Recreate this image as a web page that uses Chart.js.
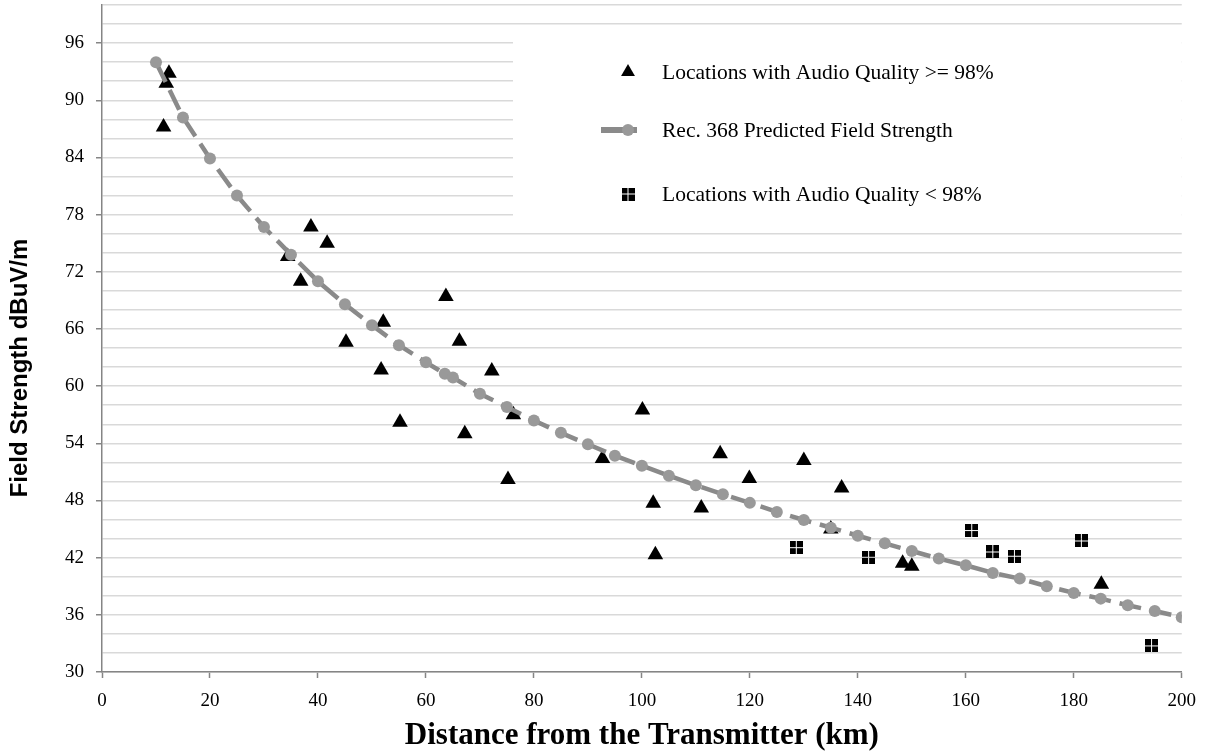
<!DOCTYPE html>
<html>
<head>
<meta charset="utf-8">
<script src="https://cdn.jsdelivr.net/npm/chart.js@4"></script>
<style>
  html, body { margin: 0; padding: 0; background: #fff; }
  #wrap { width: 1208px; height: 756px; }
</style>
</head>
<body>
<div id="wrap"><canvas id="fieldChart" width="1208" height="756"></canvas></div>
<script>
// Rec. 368 predicted curve
const predDist = [10, 15, 20, 25, 30, 35, 40, 45, 50, 55, 60, 63.5, 65, 70, 75, 80, 85, 90, 95, 100,
  105, 110, 115, 120, 125, 130, 135, 140, 145, 150, 155, 160, 165, 170, 175, 180, 185, 190, 195, 200];
const predField = [94.0, 88.2, 83.9, 80.0, 76.7, 73.8, 71.0, 68.6, 66.4, 64.3, 62.5, 61.3, 60.9, 59.2, 57.8, 56.4, 55.1, 53.9, 52.7, 51.65,
  50.6, 49.6, 48.65, 47.75, 46.8, 45.95, 45.15, 44.3, 43.5, 42.7, 41.9, 41.2, 40.4, 39.8, 39.0, 38.3, 37.7, 37.0, 36.4, 35.75];

// measured locations, audio quality >= 98%
const goodDist = [12.4, 11.9, 11.4, 34.4, 36.8, 38.7, 41.7, 45.2, 51.7, 52.1, 55.2, 63.7, 66.2, 67.2, 72.2,
  75.2, 76.2, 92.7, 100.1, 102.1, 102.5, 111.0, 114.5, 119.9, 130.0, 135.0, 137.0, 148.3, 150.0, 185.1];
const goodField = [92.85, 91.8, 87.2, 73.6, 71.0, 76.7, 75.0, 64.6, 61.7, 66.7, 56.2, 69.4, 64.7, 55.0, 61.6,
  50.2, 57.0, 52.4, 57.5, 47.7, 42.3, 47.2, 52.9, 50.3, 52.2, 45.0, 49.3, 41.4, 41.1, 39.2];

// measured locations, audio quality < 98%
const badDist = [128.6, 142.0, 161.1, 165.0, 169.0, 181.4, 194.4];
const badField = [43.05, 42.04, 44.85, 42.6, 42.15, 43.75, 32.74];

const seriesNames = ['Locations with Audio Quality >= 98%', 'Rec. 368 Predicted Field Strength', 'Locations with Audio Quality < 98%'];
const xTicks = [0, 20, 40, 60, 80, 100, 120, 140, 160, 180, 200];
const yLabelled = [30, 36, 42, 48, 54, 60, 66, 72, 78, 84, 90, 96];
const yTitle = 'Field Strength dBuV/m';
const xTitle = 'Distance from the Transmitter (km)';

function pairs(xs, ys) {
  return xs.map((x, i) => ({ x: x, y: ys[i] }));
}

// four-block square marker
function quadMarker() {
  const c = document.createElement('canvas');
  c.width = 13; c.height = 13;
  const g = c.getContext('2d');
  g.fillStyle = '#000';
  g.fillRect(0, 0, 6, 6);
  g.fillRect(7, 0, 6, 6);
  g.fillRect(0, 7, 6, 6);
  g.fillRect(7, 7, 6, 6);
  return c;
}
const quad = quadMarker();

const serif = "'Liberation Serif', 'Times New Roman', serif";
const sans = "'Liberation Sans', Arial, sans-serif";

// legend drawn inside the plot, on a white box
const insideLegend = {
  id: 'insideLegend',
  beforeDatasetsDraw(chart) {
    const ctx = chart.ctx;
    const area = chart.chartArea;
    const ds = chart.data.datasets;
    ctx.save();
    ctx.fillStyle = '#fff';
    ctx.fillRect(513, 27, area.right - 513, 197);
    const rows = [72, 130, 194];
    const mx = 628, tx = 662;
    ctx.font = '21.5px ' + serif;
    ctx.textBaseline = 'middle';
    ds.forEach((d, i) => {
      const y = rows[i];
      if (d.type === 'line') {
        ctx.strokeStyle = d.borderColor;
        ctx.lineWidth = 6;
        ctx.beginPath();
        ctx.moveTo(601, y);
        ctx.lineTo(637, y);
        ctx.stroke();
      }
      ctx.fillStyle = d.pointBackgroundColor;
      Chart.helpers.drawPoint(ctx, {
        pointStyle: d.pointStyle,
        radius: d.type === 'line' ? d.pointRadius : d.pointRadius - 1,
        rotation: 0,
        borderWidth: 0
      }, mx, y);
      ctx.fillStyle = '#000';
      ctx.fillText(d.label, tx, y + 1);
    });
    ctx.restore();
  },
  // y axis title sits a bit below the plot's middle in the original
  afterDraw(chart) {
    const ctx = chart.ctx;
    ctx.save();
    ctx.translate(20, 368);
    ctx.rotate(-Math.PI / 2);
    ctx.font = 'bold 24px ' + sans;
    ctx.fillStyle = '#000';
    ctx.textAlign = 'center';
    ctx.textBaseline = 'middle';
    ctx.fillText(yTitle, 0, 0);
    ctx.restore();
  }
};

const ctx = document.getElementById('fieldChart').getContext('2d');
const fieldChart = new Chart(ctx, {
  data: {
    datasets: [
      {
        type: 'scatter',
        label: seriesNames[0],
        data: pairs(goodDist, goodField),
        pointStyle: 'triangle',
        pointRadius: 9,
        pointBackgroundColor: '#000',
        pointBorderWidth: 0,
        order: 1
      },
      {
        type: 'line',
        label: seriesNames[1],
        data: pairs(predDist, predField),
        borderColor: '#8a8a8a',
        borderWidth: 4.5,
        borderDash: [22, 9],
        pointStyle: 'circle',
        pointRadius: 6,
        pointBackgroundColor: '#999999',
        pointBorderWidth: 0,
        tension: 0,
        fill: false,
        order: 0
      },
      {
        type: 'scatter',
        label: seriesNames[2],
        data: pairs(badDist, badField),
        pointStyle: quad,
        pointRadius: 7,
        pointBackgroundColor: '#000',
        pointBorderWidth: 0,
        order: 2
      }
    ]
  },
  options: {
    responsive: false,
    animation: false,
    layout: { autoPadding: false, padding: { top: 5, right: 25, left: 0, bottom: 0 } },
    plugins: {
      legend: { display: false },
      tooltip: { enabled: false }
    },
    scales: {
      x: {
        type: 'linear',
        min: 0,
        max: 200,
        afterFit(s) { s.height = 84; },
        afterBuildTicks(s) { s.ticks = xTicks.map(v => ({ value: v })); },
        border: { color: '#858585', width: 1.5 },
        grid: { drawOnChartArea: false, drawTicks: true, tickLength: 6, tickColor: '#858585', tickWidth: 1.5 },
        ticks: { color: '#000', font: { family: serif, size: 19 }, padding: 12, maxRotation: 0 },
        title: {
          display: true,
          text: xTitle,
          color: '#000',
          font: { family: serif, size: 31, weight: 'bold' },
          padding: { top: 0, bottom: 1 }
        }
      },
      y: {
        type: 'linear',
        min: 30,
        max: 100,
        afterFit(s) { s.width = 102; s.paddingTop = 0; },
        border: { color: '#858585', width: 1.5 },
        grid: {
          color: '#d9d9d9',
          lineWidth: 1.5,
          tickLength: 6,
          tickWidth: 1.5,
          tickColor: c => yLabelled.includes(c.tick.value) ? '#858585' : 'rgba(0,0,0,0)'
        },
        ticks: {
          stepSize: 2,
          autoSkip: false,
          color: '#000',
          font: { family: serif, size: 19 },
          padding: 12,
          callback: v => yLabelled.includes(v) ? String(v) : ''
        },
        title: { display: false }
      }
    }
  },
  plugins: [insideLegend]
});
</script>
</body>
</html>
